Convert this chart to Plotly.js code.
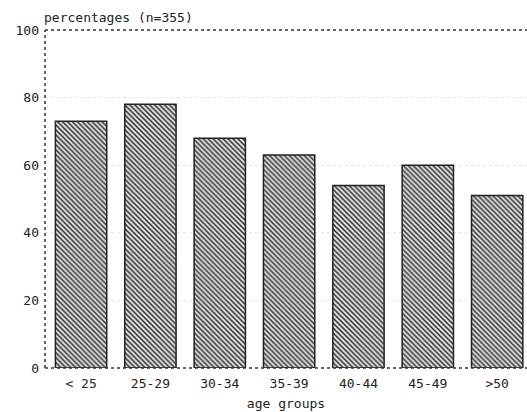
<!DOCTYPE html>
<html>
<head>
<meta charset="utf-8">
<script src="https://cdn.plot.ly/plotly-3.0.1.min.js"></script>
<style>html,body{margin:0;padding:0;background:#fff;overflow:hidden}</style>
</head>
<body>
<div id="chart" style="width:527px;height:412px"></div>
<script>
var categories = ["< 25", "25-29", "30-34", "35-39", "40-44", "45-49", ">50"];
var percentages = [73, 78, 68, 63, 54, 60, 51];
var yTicks = [0, 20, 40, 60, 80, 100];

var font = {family: "DejaVu Sans Mono, Liberation Mono, monospace", size: 13, color: "#222"};

var trace = {
  type: "bar",
  x: categories,
  y: percentages,
  width: 0.74,
  marker: {
    color: "#d8d8d8",
    pattern: {shape: "\\", fgcolor: "#2a2a2a", bgcolor: "#e2e2e2", size: 3.5, solidity: 0.42},
    line: {color: "#222", width: 1.5}
  },
  hoverinfo: "skip"
};

var dotLine = {color: "#333", width: 1.5, dash: "dot"};

var layout = {
  width: 527, height: 412,
  margin: {l: 45, r: 0, t: 30, b: 44, pad: 0},
  paper_bgcolor: "#fff", plot_bgcolor: "#fff",
  font: font,
  showlegend: false,
  title: {
    text: "percentages (n=355)",
    font: font,
    x: 44/527, xref: "container", xanchor: "left",
    y: 1 - 17/412, yref: "container", yanchor: "middle"
  },
  xaxis: {
    type: "category",
    range: [-0.52, 6.43],
    showline: false, showgrid: false, zeroline: false,
    ticks: "", ticklabelstandoff: 6,
    tickfont: font,
    title: {text: "age groups", font: font, standoff: 8}
  },
  yaxis: {
    range: [0, 100],
    tickvals: yTicks,
    ticktext: yTicks.map(String),
    showline: false, zeroline: false,
    showgrid: true, gridcolor: "#e4e4e4", griddash: "dot", gridwidth: 1,
    ticks: "", ticklabelstandoff: 5,
    tickfont: font
  },
  shapes: [
    {type: "line", xref: "paper", yref: "paper", x0: 0, x1: 0, y0: 0, y1: 1, line: dotLine},
    {type: "line", xref: "paper", yref: "paper", x0: 0, x1: 1, y0: 1, y1: 1, line: dotLine},
    {type: "line", xref: "paper", yref: "paper", x0: 0, x1: 1, y0: 0, y1: 0, line: dotLine}
  ]
};

Plotly.newPlot("chart", [trace], layout, {displayModeBar: false, staticPlot: true});
</script>
</body>
</html>
